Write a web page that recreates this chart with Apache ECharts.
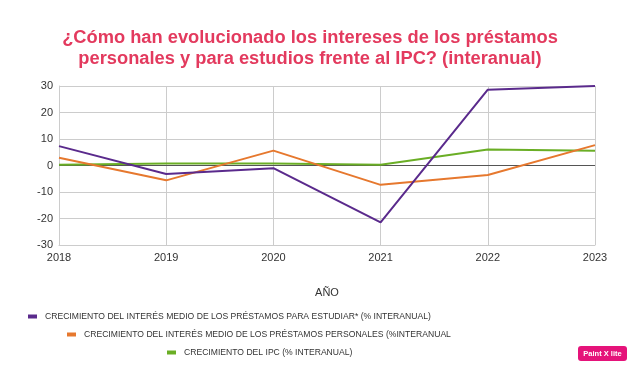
<!DOCTYPE html>
<html><head><meta charset="utf-8">
<script src="https://cdn.jsdelivr.net/npm/echarts@6/dist/echarts.min.js"></script>
<style>html,body{margin:0;padding:0;background:#fff}#c{width:635px;height:369px}</style>
</head><body><div id="c"></div>
<script>
const years = ['2018','2019','2020','2021','2022','2023'];
const estudiar = [7.3, -3.2, -1.0, -21.5, 28.6, 30.0];
const personales = [2.9, -5.6, 5.6, -7.3, -3.6, 7.7];
const ipc = [0.3, 0.8, 0.8, 0.3, 6.0, 5.6];
const names = [
  'CRECIMIENTO DEL INTERÉS MEDIO DE LOS PRÉSTAMOS PARA ESTUDIAR* (% INTERANUAL)',
  'CRECIMIENTO DEL INTERÉS MEDIO DE LOS PRÉSTAMOS PERSONALES (%INTERANUAL',
  'CRECIMIENTO DEL IPC (% INTERANUAL)'
];
const colors = ['#5a2a8c', '#e6782e', '#6aae25'];
const chart = echarts.init(document.getElementById('c'));
const legendText = {fontFamily:'Liberation Sans', fontSize:8.6, color:'#333', padding:[0,0,0,3]};
function lg(i, left, top){
  return {data:[names[i]], left:left, top:top, icon:'rect', itemWidth:9, itemHeight:4, itemGap:8, textStyle:legendText, selectedMode:false, padding:0};
}
chart.setOption({
  animation:false,
  title:{text:'¿Cómo han evolucionado los intereses de los préstamos\npersonales y para estudios frente al IPC? (interanual)',
    left:305, top:22, textAlign:'center',
    textStyle:{fontFamily:'Liberation Sans', fontSize:18.3, fontWeight:'bold', color:'#e33a5e', lineHeight:21}},
  legend:[lg(0,28,312), lg(1,67,330), lg(2,167,348)],
  grid:{left:59, right:40, top:86, bottom:124},
  xAxis:{type:'category', data:years, boundaryGap:false,
    name:'AÑO', nameLocation:'middle', nameGap:42,
    nameTextStyle:{fontFamily:'Liberation Sans', fontSize:11, color:'#333'},
    axisLine:{onZero:false, lineStyle:{color:'#ccc'}}, axisTick:{show:false},
    axisLabel:{fontFamily:'Liberation Sans', fontSize:11, color:'#333', margin:7},
    splitLine:{show:true, lineStyle:{color:'#ccc'}}},
  yAxis:{type:'value', min:-30, max:30, interval:10,
    axisLine:{show:true, lineStyle:{color:'#ccc'}}, axisTick:{show:false},
    axisLabel:{fontFamily:'Liberation Sans', fontSize:11, color:'#333', margin:6},
    splitLine:{lineStyle:{color:'#ccc'}}},
  series:[
    {name:names[2], type:'line', data:ipc, symbol:'none', lineStyle:{width:2, color:colors[2]}, itemStyle:{color:colors[2]}, z:3},
    {name:names[1], type:'line', data:personales, symbol:'none', lineStyle:{width:2, color:colors[1]}, itemStyle:{color:colors[1]}, z:4,
      markLine:{silent:true, symbol:'none', label:{show:false}, lineStyle:{color:'#555', type:'solid', width:1.2}, data:[{yAxis:0}], z:2}},
    {name:names[0], type:'line', data:estudiar, symbol:'none', lineStyle:{width:2, color:colors[0]}, itemStyle:{color:colors[0]}, z:5}
  ],
  graphic:[{type:'group', left:578, top:346, children:[
    {type:'rect', shape:{x:0,y:0,width:49,height:15,r:3}, style:{fill:'#e5137a'}},
    {type:'text', style:{x:24.5, y:7.5, text:'Paint X lite', align:'center', verticalAlign:'middle', fontFamily:'Liberation Sans', fontSize:7.5, fontWeight:'bold', fill:'#fff'}}
  ]}]
});
</script></body></html>
